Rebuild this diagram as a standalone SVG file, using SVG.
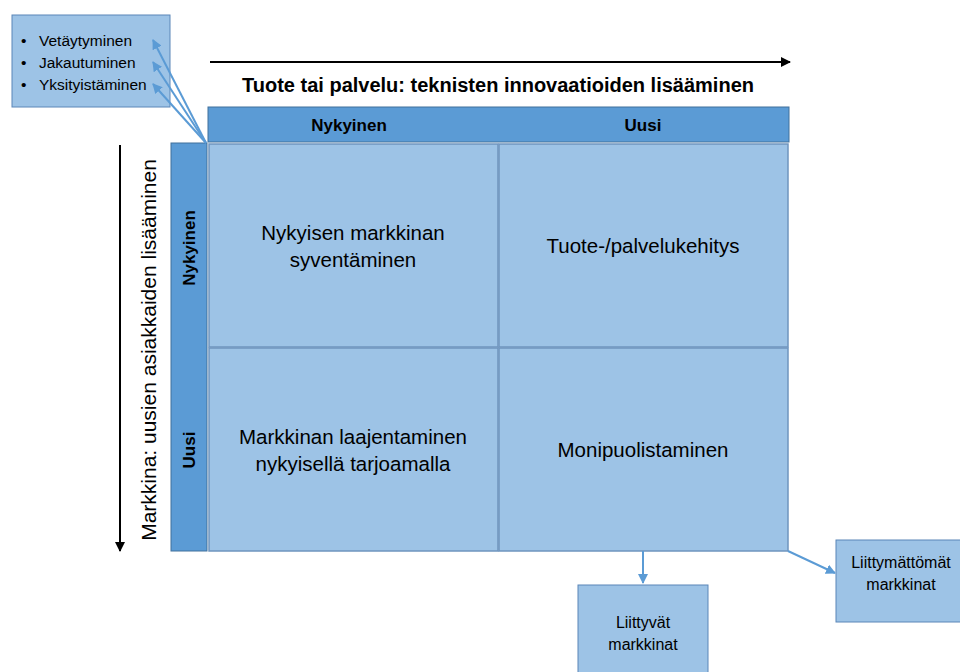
<svg xmlns="http://www.w3.org/2000/svg" width="960" height="672" viewBox="0 0 960 672">
  <defs>
    <style>
      .hdr { fill: #5B9BD5; stroke: #41719C; stroke-width: 1; }
      .cell { fill: #9DC3E6; stroke: #6F95BE; stroke-width: 1.5; }
      .box { fill: #9DC3E6; stroke: #5B86B8; stroke-width: 1; }
      text { font-family: "Liberation Sans", Arial, sans-serif; fill: #000; }
      .b { font-weight: bold; }
      .link { stroke: #5B9BD5; stroke-width: 2; fill: none; marker-end: url(#blueHead); }
      .axis { stroke: #000; stroke-width: 2; fill: none; marker-end: url(#blackHead); }
    </style>
    <marker id="blueHead" viewBox="0 0 10 10" refX="9" refY="5" markerWidth="5" markerHeight="5" orient="auto" markerUnits="strokeWidth">
      <path d="M0,0 L10,5 L0,10 z" fill="#5B9BD5"/>
    </marker>
    <marker id="blackHead" viewBox="0 0 10 10" refX="9" refY="5" markerWidth="5" markerHeight="5" orient="auto" markerUnits="strokeWidth">
      <path d="M0,0 L10,5 L0,10 z" fill="#000"/>
    </marker>
  </defs>

  <rect width="960" height="672" fill="#fff"/>

  <!-- axes -->
  <g id="axes">
    <line class="axis" x1="210" y1="62" x2="790" y2="62"/>
    <text class="b" x="498" y="92" font-size="20" text-anchor="middle">Tuote tai palvelu: teknisten innovaatioiden lisääminen</text>
    <line class="axis" x1="120" y1="145" x2="120" y2="551"/>
    <text x="0" y="0" font-size="21" text-anchor="middle" transform="translate(156,350) rotate(-90)">Markkina: uusien asiakkaiden lisääminen</text>
  </g>

  <!-- headers -->
  <g id="colHeader">
    <rect class="hdr" x="208" y="107" width="581" height="35"/>
    <text class="b" x="349" y="131" font-size="17" text-anchor="middle">Nykyinen</text>
    <text class="b" x="643" y="131" font-size="17" text-anchor="middle">Uusi</text>
  </g>
  <g id="rowHeader">
    <rect class="hdr" x="171" y="143" width="36" height="408"/>
    <text class="b" x="0" y="0" font-size="17" text-anchor="middle" transform="translate(195,248) rotate(-90)">Nykyinen</text>
    <text class="b" x="0" y="0" font-size="17" text-anchor="middle" transform="translate(195,450) rotate(-90)">Uusi</text>
  </g>

  <!-- matrix cells -->
  <g id="cellPenetration">
    <rect class="cell" x="209" y="144" width="289" height="203"/>
    <text x="353" y="240" font-size="20.5" text-anchor="middle">Nykyisen markkinan</text>
    <text x="353" y="267" font-size="20.5" text-anchor="middle">syventäminen</text>
  </g>
  <g id="cellProduct">
    <rect class="cell" x="499" y="144" width="289" height="203"/>
    <text x="643" y="253" font-size="20.5" text-anchor="middle">Tuote-/palvelukehitys</text>
  </g>
  <g id="cellMarket">
    <rect class="cell" x="209" y="348" width="289" height="203"/>
    <text x="353" y="444" font-size="20.5" text-anchor="middle">Markkinan laajentaminen</text>
    <text x="353" y="471" font-size="20.5" text-anchor="middle">nykyisellä tarjoamalla</text>
  </g>
  <g id="cellDiversification">
    <rect class="cell" x="499" y="348" width="289" height="203"/>
    <text x="643" y="457" font-size="20.5" text-anchor="middle">Monipuolistaminen</text>
  </g>

  <!-- side boxes -->
  <g id="exitBox">
    <rect class="box" x="12" y="15" width="158" height="92"/>
    <text x="21" y="46" font-size="15.5">•</text>
    <text x="21" y="68" font-size="15.5">•</text>
    <text x="21" y="90" font-size="15.5">•</text>
    <text x="39" y="46" font-size="15.5">Vetäytyminen</text>
    <text x="39" y="68" font-size="15.5">Jakautuminen</text>
    <text x="39" y="90" font-size="15.5">Yksityistäminen</text>
  </g>
  <g id="relatedBox">
    <rect class="box" x="578" y="585" width="130" height="92"/>
    <text x="643" y="628" font-size="16" text-anchor="middle">Liittyvät</text>
    <text x="643" y="650" font-size="16" text-anchor="middle">markkinat</text>
  </g>
  <g id="unrelatedBox">
    <rect class="box" x="836" y="540" width="130" height="82"/>
    <text x="901" y="568" font-size="16" text-anchor="middle">Liittymättömät</text>
    <text x="901" y="590" font-size="16" text-anchor="middle">markkinat</text>
  </g>

  <!-- connectors -->
  <g id="connectors">
    <line class="link" x1="206" y1="143" x2="153" y2="40"/>
    <line class="link" x1="206" y1="143" x2="153" y2="62"/>
    <line class="link" x1="206" y1="143" x2="153" y2="84"/>
    <line class="link" x1="643" y1="551" x2="643" y2="583"/>
    <line class="link" x1="788" y1="551" x2="835" y2="573"/>
  </g>
</svg>
